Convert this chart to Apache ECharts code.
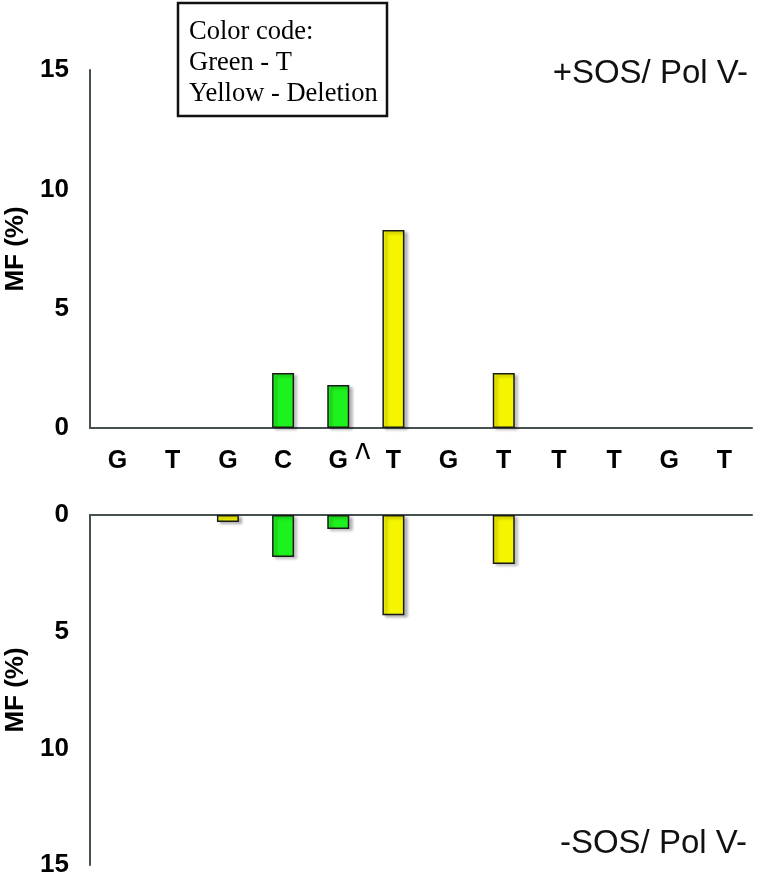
<!DOCTYPE html>
<html>
<head>
<meta charset="utf-8">
<script src="https://cdn.jsdelivr.net/npm/echarts@6/dist/echarts.min.js"></script>
<style>
html,body{margin:0;padding:0;background:#fff;}
#chart{width:758px;height:877px;}
</style>
</head>
<body>
<div id="chart"></div>
<script>
// ---- data ----
var categories = ['G','T','G','C','G','T','G','T','T','T','G','T'];
var topGreen    = [null,null,null,2.3,1.8,null,null,null,null,null,null,null];
var topYellow   = [null,null,null,null,null,8.3,null,2.3,null,null,null,null];
var bottomGreen = [null,null,null,1.8,0.6,null,null,null,null,null,null,null];
var bottomYellow= [null,null,0.3,null,null,4.3,null,2.1,null,null,null,null];
var yTicks = [0,5,10,15];
var topTitle = '+SOS/ Pol V-';
var bottomTitle = '-SOS/ Pol V-';
var legendLines = ['Color code:', 'Green - T', 'Yellow - Deletion'];
var axisName = 'MF (%)';

var GREEN = '#1ef21e', YELLOW = '#f5f500', AXIS = '#475050';

var chart = echarts.init(document.getElementById('chart'), null, {renderer:'canvas'});

function barStyle(color){
  return {
    color: color,
    borderColor: '#1a1a1a',
    borderWidth: 1.5,
    shadowColor: 'rgba(0,0,0,0.28)',
    shadowBlur: 3,
    shadowOffsetX: 3,
    shadowOffsetY: 2
  };
}
function yAx(idx, inverse){
  return {
    type:'value', gridIndex: idx, min: yTicks[0], max: yTicks[yTicks.length-1], interval: 5,
    inverse: inverse,
    axisLine:{show:true, lineStyle:{color:AXIS, width:2}},
    axisTick:{show:false},
    splitLine:{show:false},
    axisLabel:{color:'#000', fontFamily:'Liberation Sans, Arial', fontWeight:'bold', fontSize:26, margin:21},
    name: axisName, nameLocation:'middle', nameRotate: 90, nameGap: 60,
    nameTextStyle:{color:'#000', fontFamily:'Liberation Sans, Arial', fontWeight:'bold', fontSize:26}
  };
}

var option = {
  backgroundColor:'#fff',
  animation:false,
  grid:[
    {left:90, right:6, top:70, height:358, containLabel:false, outerBoundsMode:'none'},
    {left:90, right:6, top:515, height:350, containLabel:false, outerBoundsMode:'none'}
  ],
  xAxis:[
    {type:'category', gridIndex:0, data:categories,
     axisLine:{lineStyle:{color:AXIS, width:2}}, axisTick:{show:false},
     axisLabel:{color:'#000', fontFamily:'Liberation Sans, Arial', fontWeight:'bold', fontSize:25, margin:21}},
    {type:'category', gridIndex:1, data:categories, position:'top',
     axisLine:{lineStyle:{color:AXIS, width:2}}, axisTick:{show:false},
     axisLabel:{show:false}}
  ],
  yAxis:[ yAx(0,false), yAx(1,true) ],
  series:[
    {type:'bar', xAxisIndex:0, yAxisIndex:0, stack:'top', data:topGreen, barWidth:22, itemStyle:barStyle(GREEN)},
    {type:'bar', xAxisIndex:0, yAxisIndex:0, stack:'top', data:topYellow, barWidth:22, itemStyle:barStyle(YELLOW)},
    {type:'bar', xAxisIndex:1, yAxisIndex:1, stack:'bot', data:bottomGreen, barWidth:22, itemStyle:barStyle(GREEN)},
    {type:'bar', xAxisIndex:1, yAxisIndex:1, stack:'bot', data:bottomYellow, barWidth:22, itemStyle:barStyle(YELLOW)}
  ]
};
chart.setOption(option);

// annotations
var p4 = chart.convertToPixel({xAxisIndex:0}, 4);
var p5 = chart.convertToPixel({xAxisIndex:0}, 5);
var zeroY = chart.convertToPixel({yAxisIndex:0}, 0);
var caretX = (p4 + p5) / 2 - 3;

chart.setOption({
  graphic:[
    {type:'text', right:10, top:57, style:{text:topTitle, font:'33px "Liberation Sans", Arial', fill:'#111'}},
    {type:'text', right:11, top:827, style:{text:bottomTitle, font:'33px "Liberation Sans", Arial', fill:'#111'}},
    {type:'rect', shape:{x:178, y:3, width:209, height:113}, style:{fill:'#fff', stroke:'#111', lineWidth:2.5}},
    {type:'text', x:189, y:17, style:{text:legendLines.join('\n'), font:'26.5px "Liberation Serif", "Times New Roman"', lineHeight:31, fill:'#000'}},
    {type:'text', x:caretX, y:zeroY + 11, scaleY:1.4, originX:0, originY:0,
     style:{text:'^', font:'32px "Liberation Sans", Arial', fill:'#000', textAlign:'center'}}
  ]
});
</script>
</body>
</html>
